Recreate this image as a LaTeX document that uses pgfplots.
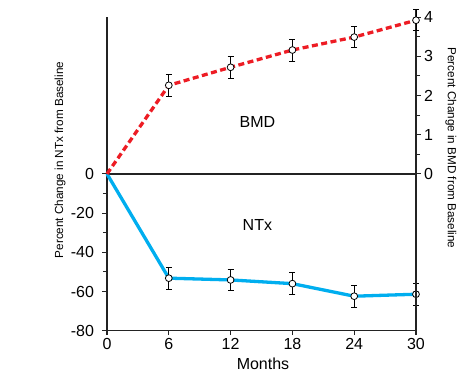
\documentclass[border=0pt]{standalone}
\usepackage{pgfplots}
\pgfplotsset{compat=1.18}
\usepackage{fontspec}
\setmainfont{Liberation Sans}
\definecolor{bmdred}{RGB}{237,28,36}
\definecolor{ntxblue}{RGB}{0,174,239}
\definecolor{axgray}{RGB}{35,35,35}
\begin{document}
\begin{tikzpicture}[x=1pt,y=1pt]
\useasboundingbox (-107,-43.3) rectangle (367,330.7);
\pgfplotsset{common/.style={scale only axis, width=309pt, at={(0,0)}, anchor=south west,
  xmin=0, xmax=30, clip=false, tick align=outside, major tick length=4.5pt, minor tick length=4pt,
  axis line style={axgray, line width=1.4pt}, tick style={axgray, line width=1.1pt},
  ticklabel style={font=\fontsize{16}{18}\selectfont}}}
\begin{axis}[common, height=313.6pt, ymin=-80, ymax=80,
  axis x line*=bottom, axis y line*=left,
  xtick={0,6,12,18,24,30}, xticklabels={0,6,12,18,24,30},
  ytick={-80,-60,-40,-20,0}, yticklabels={-80,-60,-40,-20,0},
  yticklabel style={xshift=-5pt},
  minor ytick={-50,-30,-10}]
\draw[axgray, line width=1.4pt] (axis cs:0,0) -- (axis cs:30,0);
\addplot[ntxblue, line width=3.3pt, no marks] coordinates {(0,0) (6,-53.2) (12,-54.1) (18,-56.0) (24,-62.4) (30,-61.4)};
\addplot[only marks, mark=*, mark size=3.4pt, mark options={fill=white, draw=black, line width=0.8pt},
  error bars/.cd, y dir=both, y explicit, error bar style={black, line width=0.8pt},
  error mark options={rotate=90, mark size=3pt, black, line width=0.8pt}]
  coordinates {(6,-53.2) +- (0,5.6) (12,-54.1) +- (0,5.5) (18,-56.0) +- (0,5.7) (24,-62.4) +- (0,5.6) (30,-61.4) +- (0,5.6)};
\node[font=\fontsize{16}{18}\selectfont] at (axis cs:14.6,-26) {NTx};
\end{axis}
\begin{axis}[common, height=321.44pt, ymin=-4, ymax=4.2,
  axis x line=none, axis y line*=right,
  ytick={0,1,2,3,4}, yticklabels={0,1,2,3,4}, minor ytick={0.5,1.5,2.5,3.5}]
\addplot[bmdred, line width=3.3pt, dash pattern=on 6pt off 3.5pt, no marks] coordinates {(0,0) (6,2.26) (12,2.72) (18,3.16) (24,3.49) (30,3.92)};
\addplot[only marks, mark=*, mark size=3.4pt, mark options={fill=white, draw=black, line width=0.8pt},
  error bars/.cd, y dir=both, y explicit, error bar style={black, line width=0.8pt},
  error mark options={rotate=90, mark size=3pt, black, line width=0.8pt}]
  coordinates {(6,2.26) +- (0,0.28) (12,2.72) +- (0,0.28) (18,3.16) +- (0,0.28) (24,3.49) +- (0,0.27) (30,3.92) +- (0,0.27)};
\node[font=\fontsize{16}{18}\selectfont] at (axis cs:14.6,1.33) {BMD};
\end{axis}
\node[rotate=90, font=\fontsize{11.7}{14}\selectfont] at (-47,170.7) {Percent Change in NTx from Baseline};
\node[rotate=-90, font=\fontsize{11.7}{14}\selectfont] at (344,182.7) {Percent Change in BMD from Baseline};
\node[font=\fontsize{16}{18}\selectfont] at (156,-32.7) {Months};
\end{tikzpicture}
\end{document}
